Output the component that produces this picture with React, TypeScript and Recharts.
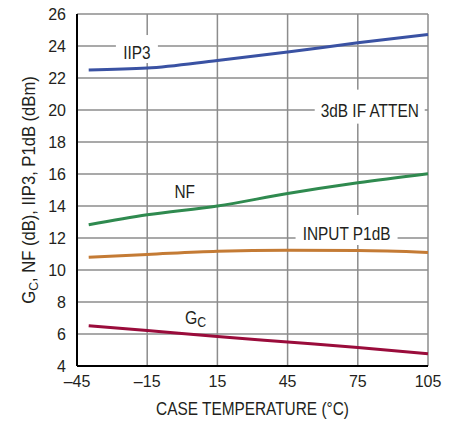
import React from "react";
import {
  LineChart,
  Line,
  XAxis,
  YAxis,
  CartesianGrid,
  ReferenceDot,
} from "recharts";

const temps = [-40, -15, 15, 45, 75, 105];
const iip3 = [22.5, 22.62, 23.1, 23.62, 24.2, 24.72];
const nf = [12.83, 13.45, 14.0, 14.78, 15.45, 16.02];
const p1db = [10.8, 10.97, 11.17, 11.23, 11.22, 11.1];
const gc = [6.52, 6.22, 5.85, 5.5, 5.15, 4.77];

const xTicks = [-45, -15, 15, 45, 75, 105];
const yTicks = [4, 6, 8, 10, 12, 14, 16, 18, 20, 22, 24, 26];

const FONT = "'Liberation Sans', Arial, sans-serif";
const FS = 17.5;
const NARROW = 0.88;
const TXT = "#231f20";

const dados = temps.map((t, i) => ({
  t,
  iip3: iip3[i],
  nf: nf[i],
  p1db: p1db[i],
  gc: gc[i],
}));

// notes placed in data coordinates; box = white patch behind the text (px)
const notas = [
  { x: -19.4, y: 23.56, text: "IIP3", box: { w: 42, h: 28, dy: -4 } },
  { x: 80.1, y: 19.96, text: "3dB IF ATTEN", box: { w: 110, h: 34, dy: -4 } },
  { x: 1.0, y: 14.88, text: "NF", box: null },
  { x: 70.2, y: 12.25, text: "INPUT P1dB", box: { w: 102, h: 30, dy: -4 } },
];

// condensed text: Arial squeezed horizontally
function Narrow({ x, y, anchor = "middle", rotate = 0, scale = NARROW, children }: any) {
  return (
    <text
      transform={`translate(${x} ${y}) rotate(${rotate}) scale(${scale} 1)`}
      textAnchor={anchor}
      fontFamily={FONT}
      fontSize={FS}
      fill={TXT}
    >
      {children}
    </text>
  );
}

function nota(text: string, box: any) {
  return (p: any) => (
    <g>
      {box && (
        <rect x={p.cx - box.w / 2} y={p.cy - box.h / 2 + box.dy} width={box.w} height={box.h} fill="#fff" />
      )}
      <Narrow x={p.cx} y={p.cy + 6.3}>
        {text}
      </Narrow>
    </g>
  );
}

function gcNota(p: any) {
  return (
    <Narrow x={p.cx - 5} y={p.cy + 7} anchor="start">
      <tspan fontSize={18}>G</tspan>
      <tspan fontSize={14} dy={3}>
        C
      </tspan>
    </Narrow>
  );
}

function YLabel(props: any) {
  const vb = props.viewBox || { x: 0, y: 14, width: 77, height: 352 };
  const cx = 34.5;
  const cy = vb.y + vb.height / 2;
  return (
    <Narrow x={cx} y={cy} rotate={-90} scale={0.95}>
      G
      <tspan fontSize={13} dy={3}>
        C
      </tspan>
      <tspan dy={-3}>, NF (dB), IIP3, P1dB (dBm)</tspan>
    </Narrow>
  );
}

function XLabel(props: any) {
  const vb = props.viewBox || { x: 77, y: 366, width: 351, height: 50 };
  return (
    <Narrow x={vb.x + vb.width / 2} y={vb.y + 49}>
      CASE TEMPERATURE (°C)
    </Narrow>
  );
}

export default function App() {
  return (
    <div style={{ position: "absolute", left: 0, top: 0, background: "#fff" }}>
      <LineChart
        width={460}
        height={424}
        data={dados}
        margin={{ top: 14, right: 32, left: 0, bottom: 8 }}
      >
        <CartesianGrid stroke="#8c8c8c" strokeWidth={1.5} />
        <XAxis
          dataKey="t"
          type="number"
          domain={[-45, 105]}
          ticks={xTicks}
          tickLine={false}
          tickMargin={4}
          height={50}
          axisLine={{ stroke: "#000", strokeWidth: 2 }}
          tick={{ fontFamily: FONT, fontSize: 16, fill: TXT }}
          tickFormatter={(v: number) => String(v).replace("-", "\u2013")}
          label={{ content: XLabel }}
        />
        <XAxis
          xAxisId="top"
          orientation="top"
          dataKey="t"
          type="number"
          domain={[-45, 105]}
          ticks={xTicks}
          tick={false}
          tickLine={false}
          height={0}
          axisLine={{ stroke: "#222", strokeWidth: 1.5 }}
        />
        <YAxis
          type="number"
          domain={[4, 26]}
          ticks={yTicks}
          interval={0}
          width={77}
          tickLine={false}
          tickMargin={5}
          axisLine={{ stroke: "#000", strokeWidth: 2 }}
          tick={{ fontFamily: FONT, fontSize: 16, fill: TXT }}
          label={{ content: YLabel }}
        />
        <YAxis
          yAxisId="right"
          orientation="right"
          type="number"
          domain={[4, 26]}
          ticks={yTicks}
          tick={false}
          tickLine={false}
          width={0}
          axisLine={{ stroke: "#222", strokeWidth: 1.5 }}
        />
        {notas.map((n) => (
          <ReferenceDot key={n.text} x={n.x} y={n.y} r={1} shape={nota(n.text, n.box)} />
        ))}
        <ReferenceDot x={3.3} y={7.06} r={1} shape={gcNota} />
        <Line type="monotone" dataKey="iip3" stroke="#3a52a3" strokeWidth={3} dot={false} isAnimationActive={false} />
        <Line type="monotone" dataKey="nf" stroke="#2f8a4f" strokeWidth={3} dot={false} isAnimationActive={false} />
        <Line type="monotone" dataKey="p1db" stroke="#c47b35" strokeWidth={3} dot={false} isAnimationActive={false} />
        <Line type="monotone" dataKey="gc" stroke="#9a0c3b" strokeWidth={3} dot={false} isAnimationActive={false} />
      </LineChart>
    </div>
  );
}
